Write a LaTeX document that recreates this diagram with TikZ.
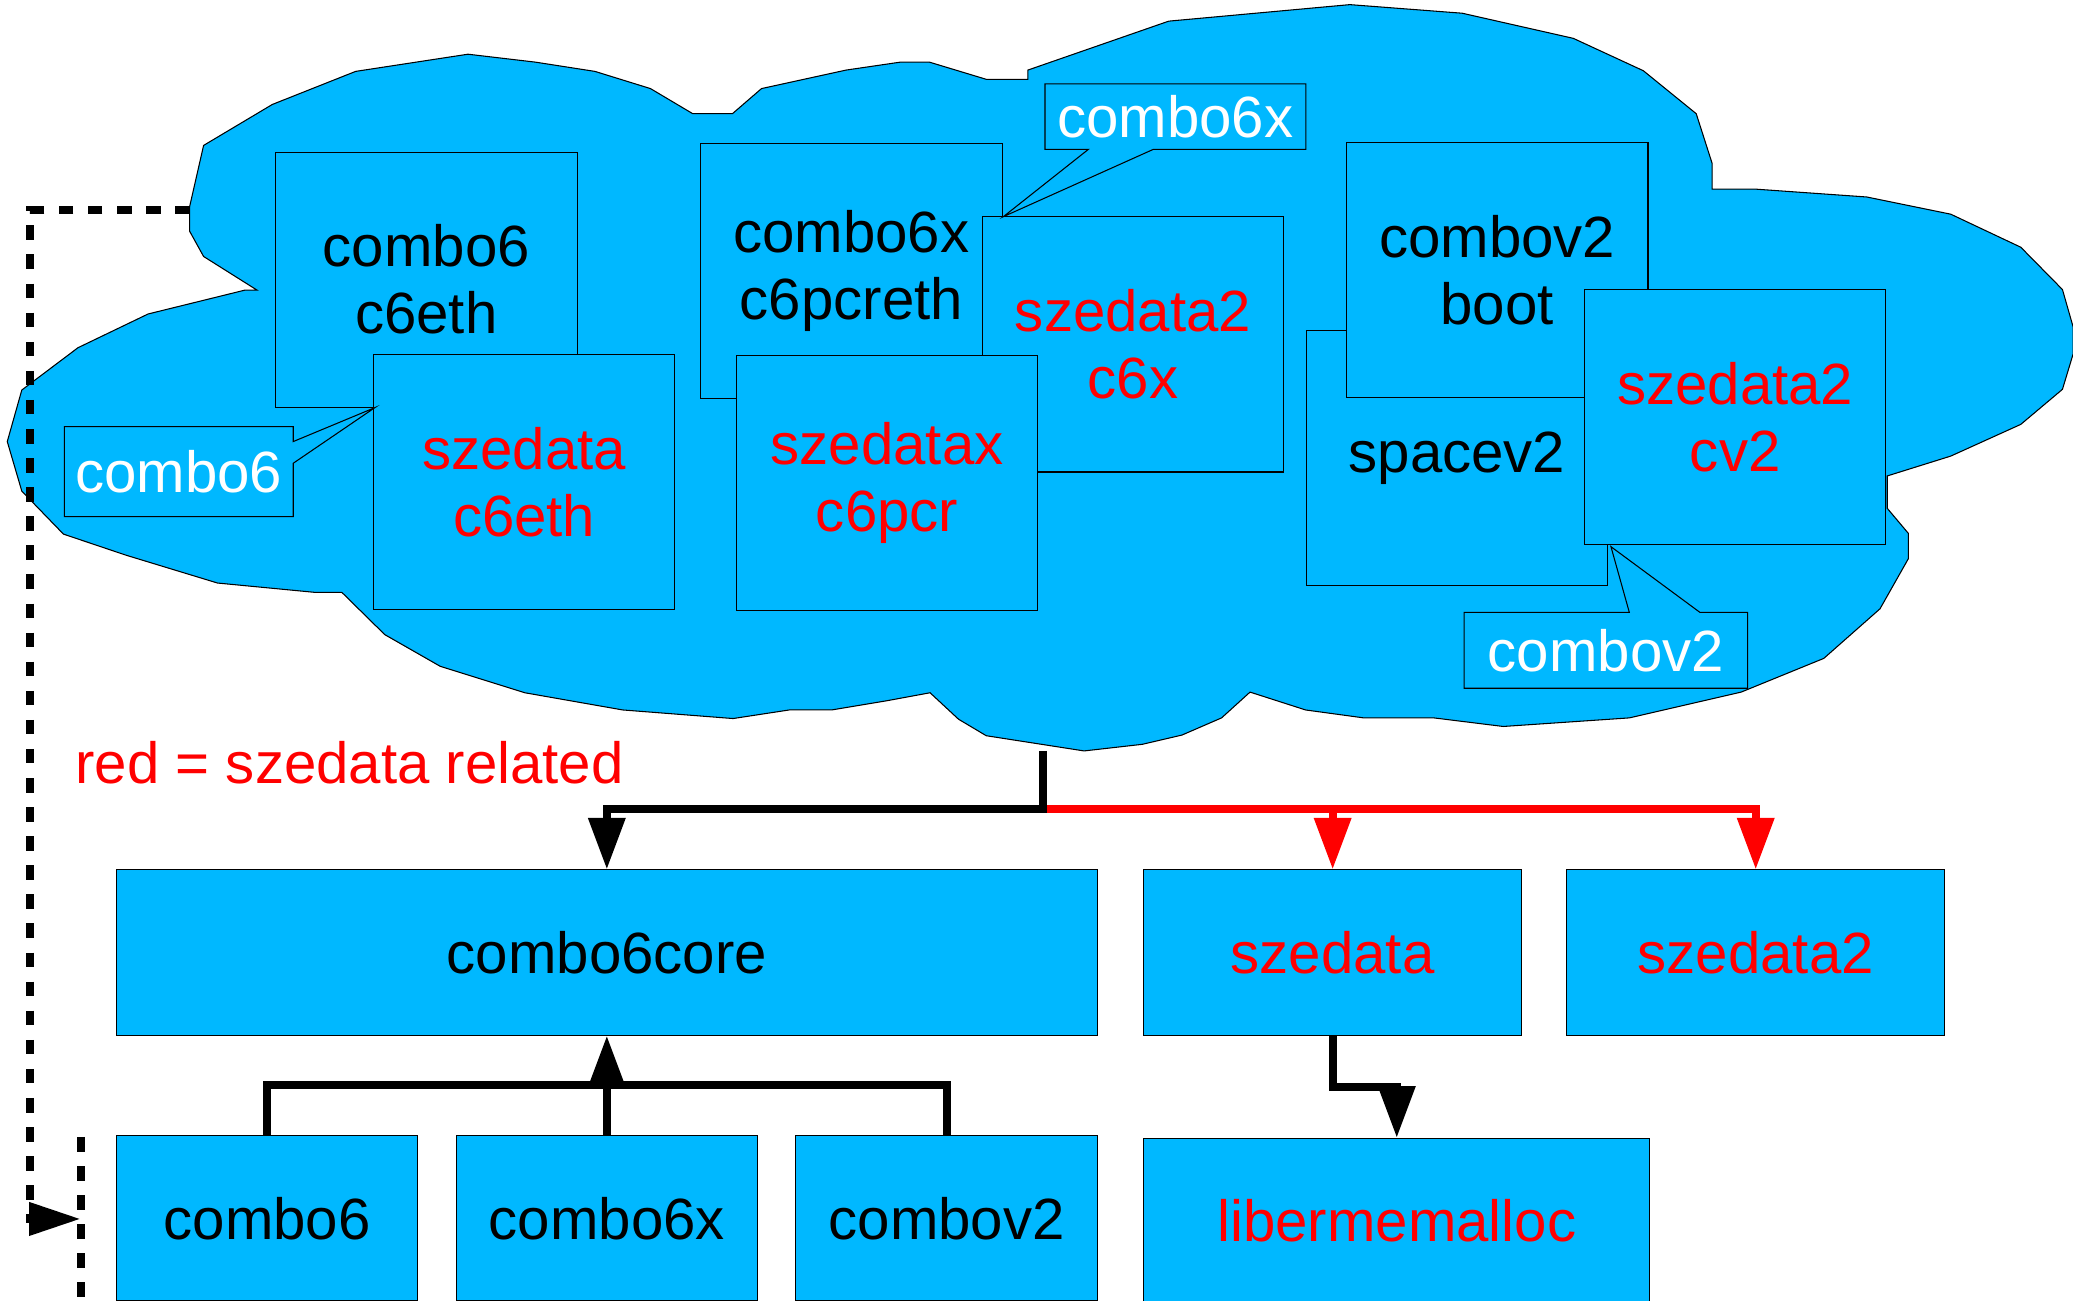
\documentclass[tikz,border=0pt]{standalone}
\usepackage{fontspec}
\setmainfont{Liberation Sans}
\usetikzlibrary{arrows.meta}
\definecolor{cloudblue}{RGB}{0,184,255}
\definecolor{szred}{RGB}{255,0,0}
\newcommand\diagfont{\fontsize{44}{50.6}\selectfont}
\begin{document}
\begin{tikzpicture}[x=1pt,y=-1pt,
  box/.style={draw=black, line width=0.8pt, fill=cloudblue, inner sep=0pt, align=center,
    font=\diagfont, minimum width=228pt, minimum height=193pt},
  lowbox/.style={box, minimum height=125pt},
  redtext/.style={text=szred},
  calloutshape/.style={draw=black, line width=0.8pt, fill=cloudblue, line join=miter},
  callouttext/.style={inner sep=0pt, text=white, font=\diagfont},
  conn/.style={line width=6pt},
  arr/.style={-{Triangle[length=39pt,width=27pt]}},
  dashline/.style={line width=6pt, dash pattern=on 11pt off 11pt}]
\useasboundingbox (0,0) rectangle (1568,984);
\clip (0,0) rectangle (1568,984);

% cloud
\draw[fill=cloudblue, line width=0.8pt]
 (154,110) -- (206,79) -- (269,54) -- (354,41) -- (405,47) -- (450,54) -- (492,67) -- (524,86)
 -- (554,86) -- (576,67) -- (640,53) -- (681,47) -- (703,47) -- (746,60) -- (777.5,60)
 -- (777.5,53) -- (884,16) -- (1021,3.5) -- (1106,10) -- (1190,29) -- (1243,53.5) -- (1283,86)
 -- (1295,123.5) -- (1295,143) -- (1327,143) -- (1412,149) -- (1475.5,162) -- (1528.5,187)
 -- (1560,219) -- (1568,247) -- (1568,268) -- (1560,294.5) -- (1528.5,321) -- (1475.5,345)
 -- (1427.5,360) -- (1427.5,384.5) -- (1443.5,403.5) -- (1443.5,422.5) -- (1422,460.5)
 -- (1379.5,498) -- (1317,523.5) -- (1232.5,543) -- (1137,549.5) -- (1084.5,543) -- (1031.5,543)
 -- (987.5,537) -- (945.5,523.5) -- (924,543) -- (894,556) -- (864,563) -- (820,568)
 -- (746,556.5) -- (725,544) -- (703.5,524) -- (671,530) -- (629,537) -- (597,537)
 -- (554.5,543.5) -- (471,537) -- (397,524) -- (333,504) -- (291,480) -- (258.5,448)
 -- (237.5,448) -- (164.5,441) -- (95.5,420) -- (48,404) -- (16.5,371.5) -- (5.5,334)
 -- (16.5,295) -- (59,263) -- (112,237.5) -- (185,219.5) -- (194.5,219.5) -- (154,194)
 -- (143.5,175) -- (143.5,156) -- cycle;

% boxes inside the cloud
\node[box] (c6eth) at (322.5,211.5) {combo6\\c6eth};
\node[box, redtext] (szc6eth) at (396.5,364.5) {szedata\\c6eth};
\node[box] (c6pcreth) at (644,205) {combo6x\\c6pcreth};
\node[box, redtext] (sz2c6x) at (857,260.5) {szedata2\\c6x};
\node[box, redtext] (szxc6pcr) at (671,365.5) {szedatax\\c6pcr};
\node[box] (spacev2) at (1102,346.5) {spacev2};
\node[box] (v2boot) at (1132.5,204.5) {combov2\\boot};
\node[box, redtext] (sz2cv2) at (1312.5,315.5) {szedata2\\cv2};

% callouts
\draw[calloutshape] (48.7,322.7) -- (221.8,322.7) -- (221.8,334) -- (283.6,308.3)
  -- (221.8,350.4) -- (221.8,390.8) -- (48.7,390.8) -- cycle;
\node[callouttext] (co6) at (135.3,356.7) {combo6};
\draw[calloutshape] (790.4,63.5) -- (987.8,63.5) -- (987.8,113) -- (872.3,113)
  -- (758.9,163.9) -- (823.2,113) -- (790.4,113) -- cycle;
\node[callouttext] (co6x) at (889,88.3) {combo6x};
\draw[calloutshape] (1107.5,463.2) -- (1232.4,463.2) -- (1218.5,413.5) -- (1285.8,463.2)
  -- (1321.8,463.2) -- (1321.8,520.6) -- (1107.5,520.6) -- cycle;
\node[callouttext] (cov2) at (1214.6,491.9) {combov2};

% legend
\node[anchor=west, inner sep=0pt, font=\diagfont, text=szred] (legend) at (57,577) {red = szedata related};

% lower boxes
\node[lowbox, minimum width=742pt] (core) at (459,720.5) {combo6core};
\node[lowbox, minimum width=286pt, redtext] (szedata) at (1008,720.5) {szedata};
\node[lowbox, minimum width=286pt, redtext] (szedata2) at (1328,720.5) {szedata2};
\node[lowbox] (combo6) at (202,921.5) {combo6};
\node[lowbox] (combo6x) at (459,921.5) {combo6x};
\node[lowbox] (combov2) at (716,921.5) {combov2};
\node[lowbox, minimum width=383pt, redtext] (liberm) at (1056.5,923.5) {libermemalloc};

% connectors from the cloud
\coordinate (cb) at (789,568);
\coordinate (split) at (789,612);
\draw[conn, red, arr] (split) -| (szedata2.north);
\draw[conn, red, arr] (split) -| (szedata.north);
\draw[conn, arr] (cb) -- (split) -| (core.north);

% drivers to core
\coordinate (jbar) at (459,821);
\draw[conn] (combo6.north) |- (jbar) -| (combov2.north);
\draw[conn, arr] (combo6x.north) -- (core.south);

% szedata to libermemalloc
\coordinate (szjoint) at (1008,822);
\draw[conn, arr] (szedata.south) -- (szjoint) -| (liberm.north);

% dashed lines
\coordinate (dstart) at (143.5,159);
\coordinate (dcorner) at (23,159);
\coordinate (dend) at (61,922);
\draw[dashline, -{Triangle[length=39pt,width=24pt]}] (dstart) -- (dcorner) |- (dend);
\coordinate (dl1) at (61,860);
\coordinate (dl2) at (61,1000);
\draw[dashline] (dl1) -- (dl2);
\end{tikzpicture}
\end{document}
